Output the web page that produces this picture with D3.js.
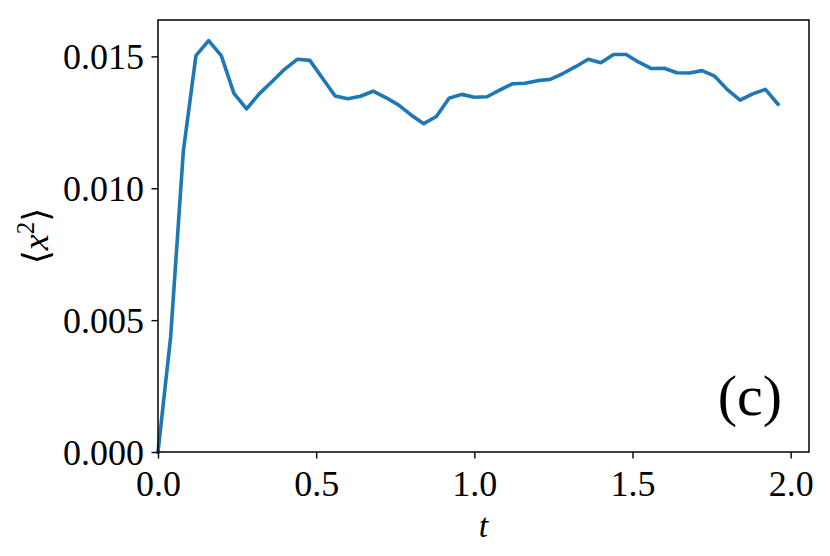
<!DOCTYPE html>
<html><head><meta charset="utf-8">
<script src="https://cdn.jsdelivr.net/npm/d3@7"></script>
<style>
body{margin:0;background:#fff;}
text{font-family:"Liberation Serif","DejaVu Serif",serif;}
</style></head>
<body>
<svg id="chart" width="830" height="556"></svg>
<script>
const tValues = [0.00,0.04,0.08,0.12,0.16,0.20,0.24,0.28,0.32,0.36,0.40,0.44,0.48,0.52,0.56,0.60,0.64,0.68,0.72,0.76,0.80,0.84,0.88,0.92,0.96,1.00,1.04,1.08,1.12,1.16,1.20,1.24,1.28,1.32,1.36,1.40,1.44,1.48,1.52,1.56,1.60,1.64,1.68,1.72,1.76,1.80,1.84,1.88,1.92,1.96];
const x2Values = [0.00000,0.00437,0.01139,0.01503,0.01560,0.01503,0.01360,0.01301,0.01358,0.01404,0.01451,0.01489,0.01485,0.01417,0.01350,0.01339,0.01349,0.01368,0.01344,0.01316,0.01278,0.01245,0.01272,0.01341,0.01356,0.01345,0.01347,0.01372,0.01396,0.01398,0.01408,0.01413,0.01435,0.01461,0.01489,0.01476,0.01507,0.01507,0.01478,0.01454,0.01455,0.01438,0.01437,0.01446,0.01425,0.01374,0.01334,0.01358,0.01375,0.01319];
const xTicks = [0.0,0.5,1.0,1.5,2.0];
const yTicks = [0.000,0.005,0.010,0.015];
const xDomain = [0, 2.058];
const yDomain = [0, 0.01638];
const panelLabel = "(c)";

const svg = d3.select("#chart");
const L = 158, R = 809, T = 20, B = 452;
const x = d3.scaleLinear().domain(xDomain).range([L, R]);
const y = d3.scaleLinear().domain(yDomain).range([B, T]);

svg.append("rect").attr("x",0).attr("y",0).attr("width",830).attr("height",556).attr("fill","#fff");

const line = d3.line().x((d,i)=>x(tValues[i])).y(d=>y(d));
svg.append("path").datum(x2Values)
  .attr("d", line).attr("fill","none").attr("stroke","#1f77b4")
  .attr("stroke-width",3.6).attr("stroke-linejoin","round").attr("stroke-linecap","square");

// frame
svg.append("rect").attr("x",L).attr("y",T).attr("width",R-L).attr("height",B-T)
  .attr("fill","none").attr("stroke","#000").attr("stroke-width",1.5);

const xAxis = d3.axisBottom(x).tickValues(xTicks).tickFormat(d3.format(".1f")).tickSize(6.5).tickSizeOuter(0);
const gx = svg.append("g").attr("transform",`translate(0,${B})`).call(xAxis);
const yAxis = d3.axisLeft(y).tickValues(yTicks).tickFormat(d3.format(".3f")).tickSize(6.5).tickSizeOuter(0);
const gy = svg.append("g").attr("transform",`translate(${L},0)`).call(yAxis);
[gx,gy].forEach(g=>{
  g.select(".domain").remove();
  g.selectAll(".tick line").attr("stroke","#000").attr("stroke-width",1.4);
  g.selectAll(".tick text").attr("fill","#000").attr("font-size",36)
    .attr("font-family","'Liberation Serif',serif");
});
gx.selectAll(".tick text").attr("dy",0).attr("y",44);
gy.selectAll(".tick text").attr("x",-14).attr("dy","0.34em");

// x label
svg.append("text").attr("x",(L+R)/2).attr("y",537).attr("text-anchor","middle")
  .attr("font-size",34).attr("font-style","italic").text("t");

// y label
const yl = svg.append("text").attr("transform",`translate(48,${(T+B)/2}) rotate(-90)`)
  .attr("text-anchor","middle").attr("font-size",36);
yl.append("tspan").text("⟨");
yl.append("tspan").attr("font-style","italic").text("x");
yl.append("tspan").attr("font-size",25).attr("dy",-14).text("2");
yl.append("tspan").attr("dy",14).text("⟩");

// panel label
svg.append("text").attr("x",782).attr("y",415).attr("text-anchor","end")
  .attr("font-size",58).text(panelLabel);
</script>
</body></html>
